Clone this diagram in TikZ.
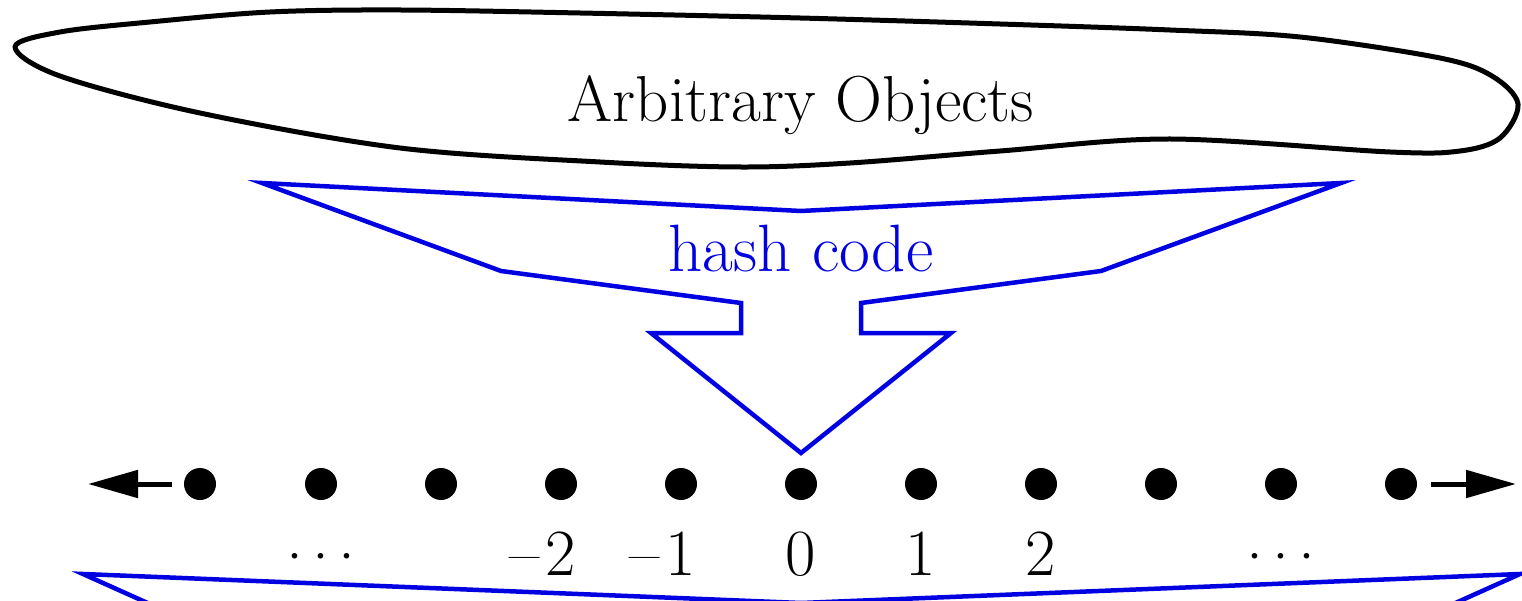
\documentclass[tikz,border=0pt]{standalone}
\usetikzlibrary{arrows.meta}

\definecolor{hashblue}{RGB}{0,0,225}

\tikzset{
    intpoint/.style={circle,fill,inner sep=0pt,minimum size=32pt},
    axisarrow/.style={line width=5pt,-{Triangle[length=50pt,width=27pt]}},
    blobline/.style={line width=5pt,line join=round},
    hashline/.style={draw=hashblue,line width=4.5pt,line join=miter},
    bigtext/.style={font=\fontsize{65}{72}\selectfont,anchor=base,inner sep=0pt}
}
\newcommand{\intdot}{\makebox[26pt]{\fontsize{68}{70}\selectfont\raisebox{-4pt}[20pt][0pt]{·}}}
\newcommand{\intdots}{\intdot\intdot\intdot}
\newcommand{\negsign}{\llap{–\hspace{6pt}}}

\begin{document}
\begin{tikzpicture}[x=1pt,y=-1pt,label distance=31pt,
        every label/.style={font=\fontsize{66}{72}\selectfont,text height=44pt,text depth=0pt,inner sep=0pt}]
        \useasboundingbox (0,0) rectangle (1522,601);
        \clip (0,0) rectangle (1522,601);

        % the set of objects
        \draw[blobline] plot[smooth cycle,tension=0.55] coordinates {
            (15,47) (60,32) (150,22) (270,12) (400,10) (580,13) (800,18) (1000,24)
            (1170,30) (1300,37) (1440,58) (1492,76) (1518,104) (1500,138) (1460,151) (1390,152)
            (1170,139) (1000,151) (850,163) (740,167) (600,162) (400,148) (200,113) (60,76)};
        \node[bigtext] (objs) at (801,122) {Arbitrary Objects};

        % hash code arrow
        \draw[hashline] (262,183) -- (801,211) -- (1341,183) -- (1101,271) -- (861,303) -- (861,333)
            -- (951,333) -- (801,453) -- (651,333) -- (741,333) -- (741,303) -- (501,271) -- cycle;
        \node[bigtext,font=\fontsize{67}{74}\selectfont,text=hashblue] (hash) at (801,272) {hash code};

        % the integers
        \node[intpoint] (dm5) at (200,484) {};
        \node[intpoint,label=below:\intdots] (dm4) at (321,484) {};
        \node[intpoint] (dm3) at (441,484) {};
        \node[intpoint,label=below:\negsign 2] (dm2) at (561,484) {};
        \node[intpoint,label=below:\negsign 1] (dm1) at (681,484) {};
        \node[intpoint,label=below:0] (d0) at (801,484) {};
        \node[intpoint,label=below:1] (d1) at (921,484) {};
        \node[intpoint,label=below:2] (d2) at (1041,484) {};
        \node[intpoint] (d3) at (1161,484) {};
        \node[intpoint,label=below:\intdots] (d4) at (1281,484) {};
        \node[intpoint] (d5) at (1401,484) {};

        \coordinate (lend) at (88,484);
        \coordinate (rend) at (1516,484);
        \draw[axisarrow,shorten <=12pt] (dm5) -- (lend);
        \draw[axisarrow,shorten <=14pt] (d5) -- (rend);

        % next arrow, cut off by the page
        \draw[hashline] (230,640) -- (83,574) -- (801,603) -- (1520,574) -- (1373,640);
\end{tikzpicture}
\end{document}
